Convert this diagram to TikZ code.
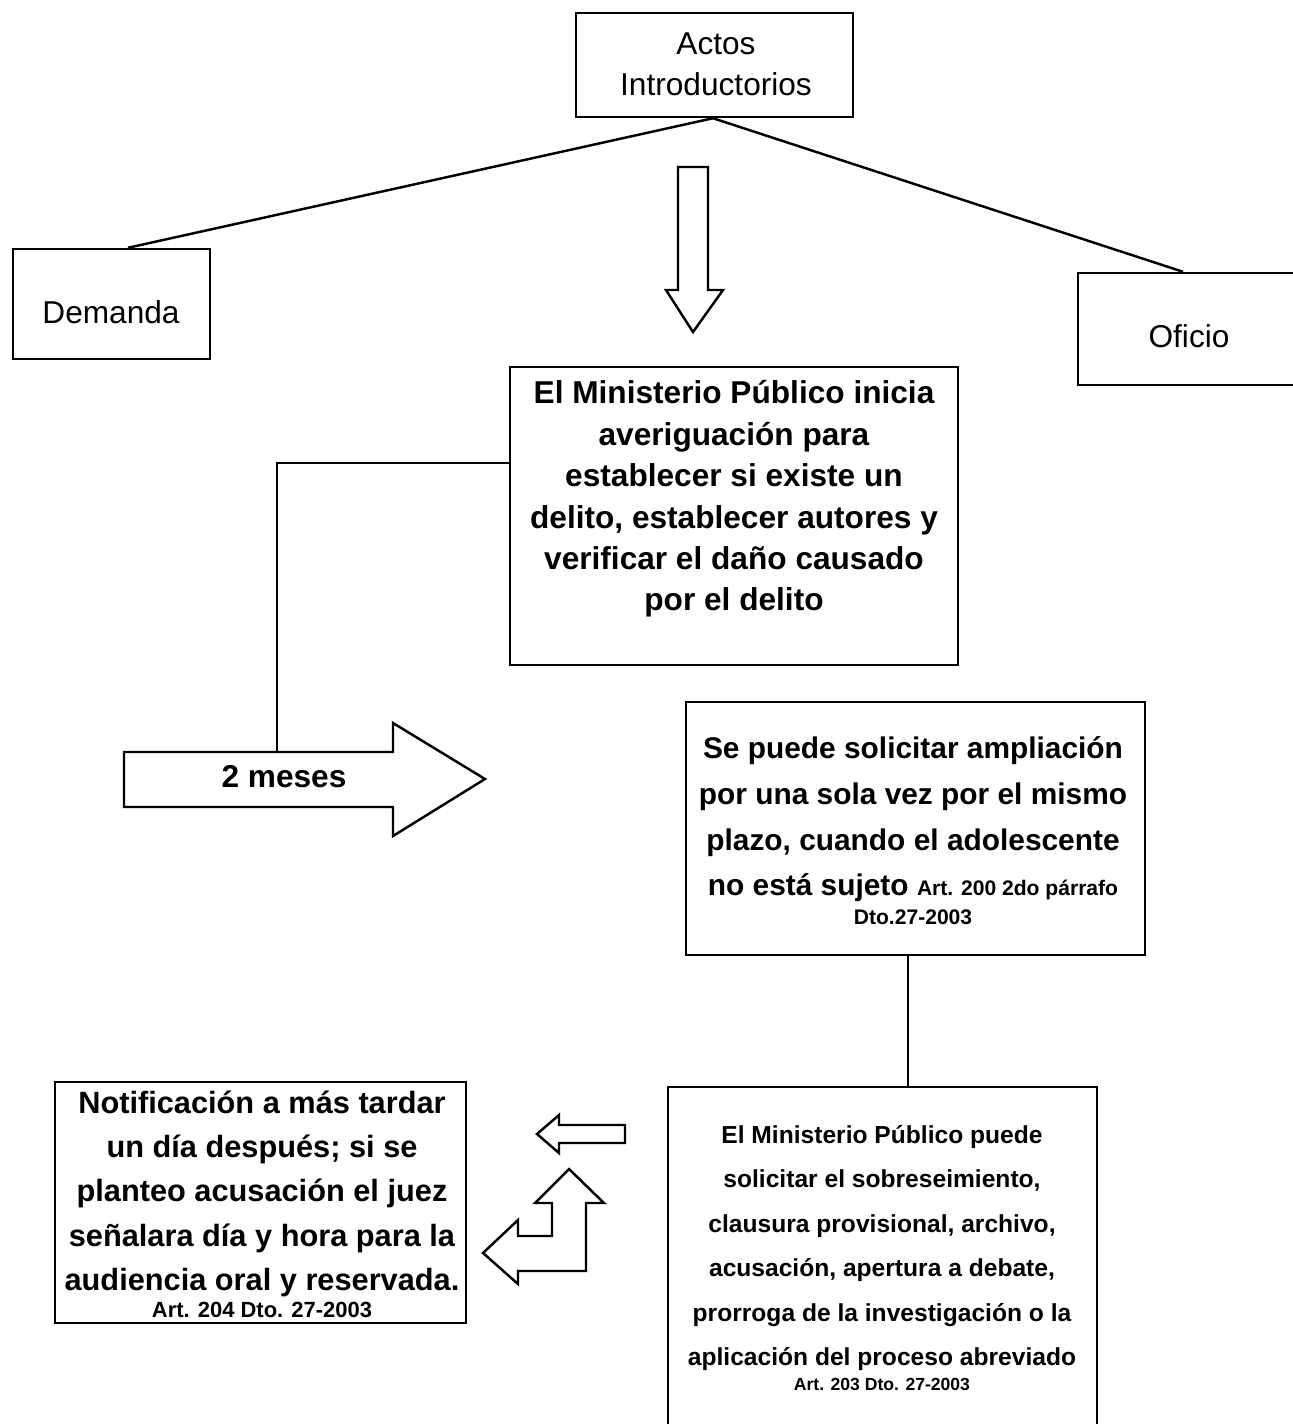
\documentclass[tikz,border=0pt]{standalone}
\usepackage{fontspec}
\setmainfont{Liberation Sans}
\usetikzlibrary{fit}
\begin{document}
\begin{tikzpicture}[x=0.02cm,y=-0.02cm,
  box/.style={draw, line width=1.4pt, rectangle, inner sep=0pt},
  txt/.style={align=center, inner sep=0pt},
  conn/.style={line width=1.4pt},
  blockarrow/.style={draw, line width=1.4pt, line join=miter, fill=white},
  bigreg/.style={font=\fontsize{18}{23.3}\selectfont},
  bigbold/.style={font=\fontsize{18}{23.6}\selectfont\bfseries}
]
\clip (0,0) rectangle (1293,1424);
\fill[white] (0,0) rectangle (1293,1424);

% boxes
\node[box, fit={(576,13) (853,117)}] (actos) {};
\node[box, fit={(13,249) (210,359)}] (dem) {};
\node[box, fit={(1078,273) (1300,385)}] (ofi) {};
\node[box, fit={(510,367) (958,665)}] (mi) {};
\node[box, fit={(686,702) (1145,955)}] (se) {};
\node[box, fit={(668,1087) (1097,1440)}] (mp) {};
\node[box, fit={(55,1082) (466,1323)}] (noti) {};

% texts
\node[txt, bigreg] (actosT) at (716,64) {Actos\\Introductorios};
\node[txt, bigreg] (demT) at (111,312) {Demanda};
\node[txt, bigreg] (ofiT) at (1189,336) {Oficio};
\node[txt, bigbold] (miT) at (734,499) {El Ministerio Público inicia\\averiguación para\\establecer si existe un\\delito, establecer autores y\\verificar el daño causado\\por el delito};
\node[txt, font=\fontsize{17}{26}\selectfont\bfseries] (seT) at (913,831)
 {Se puede solicitar ampliación\\por una sola vez por el mismo\\plazo, cuando el adolescente\\no está sujeto {\fontsize{12}{14}\selectfont Art. 200 2do párrafo}\\[-9.6pt]{\fontsize{12}{14}\selectfont Dto.27-2003}};
\node[txt, font=\fontsize{17.5}{25.2}\selectfont\bfseries] (notiT) at (262,1204)
 {Notificación a más tardar\\un día después; si se\\planteo acusación el juez\\señalara día y hora para la\\audiencia oral y reservada.\\[-10pt]{\fontsize{12.5}{14}\selectfont Art. 204 Dto. 27-2003}};
\node[txt, font=\fontsize{14}{25.3}\selectfont\bfseries] (mpT) at (882,1258)
 {El Ministerio Público puede\\solicitar el sobreseimiento,\\clausura provisional, archivo,\\acusación, apertura a debate,\\prorroga de la investigación o la\\aplicación del proceso abreviado\\[-11pt]{\fontsize{10}{12}\selectfont Art. 203 Dto. 27-2003}};

% connectors from Actos
\draw[conn] ([xshift=-0.03cm]actos.south) -- ([xshift=0.33cm]dem.north);
\draw[conn] ([xshift=-0.03cm]actos.south) -- ([xshift=-0.12cm]ofi.north);

% down block arrow
\draw[blockarrow] (678,167) -- (708,167) -- (708,290) -- (723,290) -- (693,332) -- (666,290) -- (678,290) -- cycle;

% 2 meses arrow
\draw[blockarrow] (124,752) -- (393,752) -- (393,723) -- (485,779) -- (393,836) -- (393,807) -- (124,807) -- cycle;
\coordinate (arrowtop) at (277,752);
\node[txt, font=\fontsize{18}{22}\selectfont\bfseries] (meses) at (284,777) {2 meses};
\draw[conn] ([yshift=1.06cm]mi.west) -| (arrowtop);

% se -> mp
\draw[conn] ([xshift=-0.15cm]se.south) -- ([xshift=-0.15cm]se.south |- mp.north);

% small left arrow
\draw[blockarrow] (537,1134) -- (559,1115) -- (559,1125) -- (625,1125) -- (625,1143) -- (559,1143) -- (559,1153) -- cycle;

% bent arrow
\draw[blockarrow] (569,1169) -- (604,1203) -- (586,1203) -- (586,1271) -- (518,1271) -- (518,1284) -- (483,1253) -- (518,1220) -- (518,1236) -- (552,1236) -- (552,1203) -- (535,1203) -- cycle;
\end{tikzpicture}
\end{document}
